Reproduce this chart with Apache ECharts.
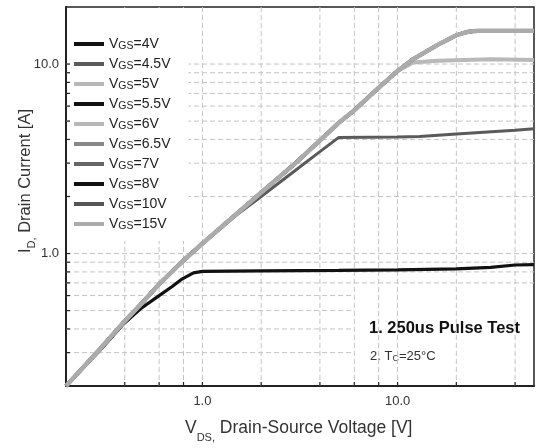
<!DOCTYPE html>
<html>
<head>
<meta charset="utf-8">
<script src="https://cdn.jsdelivr.net/npm/echarts@6/dist/echarts.min.js"></script>
<style>
html,body{margin:0;padding:0;background:#fff;}
#chart{width:537px;height:448px;}
</style>
</head>
<body>
<div id="chart"></div>
<script>
// ---- data ----
const seriesNames = ['VGS=4V','VGS=4.5V','VGS=5V','VGS=5.5V','VGS=6V','VGS=6.5V','VGS=7V','VGS=8V','VGS=10V','VGS=15V'];
const seriesColors = ['#111111','#5a5a5a','#b8b8b8','#111111','#b8b8b8','#888888','#666666','#111111','#555555','#ababab'];

const vgs4V  = [[0.2,0.2],[0.3,0.31],[0.39,0.42],[0.48,0.51],[0.6,0.6],[0.7,0.67],[0.78,0.73],[0.9,0.79],[1.0,0.805],[2,0.81],[5,0.815],[10,0.82],[20,0.83],[30,0.845],[40,0.87],[50,0.875]];
const vgs45V = [[0.2,0.2],[0.3,0.315],[0.4,0.44],[0.5,0.56],[0.6,0.69],[0.8,0.92],[1,1.13],[1.5,1.6],[2,2.0],[3,2.75],[4,3.45],[5,4.1],[10,4.12],[13,4.15],[20,4.28],[40,4.47],[50,4.55]];
const vgs5V  = [[0.2,0.2],[0.3,0.315],[0.4,0.44],[0.5,0.56],[0.6,0.69],[0.8,0.92],[1,1.13],[2,2.1],[3,3.0],[4,3.95],[5,4.9],[6,5.7],[8,7.5],[10,9.2],[12,10.2],[16,10.4],[30,10.6],[50,10.5]];
const vgs55V = [[0.2,0.2],[0.3,0.315],[0.4,0.44],[0.5,0.56],[0.6,0.69],[0.8,0.92],[1,1.13],[2,2.1],[3,3.0],[4,3.95],[5,4.9],[6,5.7],[8,7.5],[10,9.2],[12,10.6],[16,12.6],[20,14.2],[23,14.8],[26,15.0],[50,15.0]];
const vgs6V  = vgs55V;
const vgs65V = vgs55V;
const vgs7V  = vgs55V;
const vgs8V  = vgs55V;
const vgs10V = vgs55V;
const vgs15V = vgs55V;
const seriesData = [vgs4V, vgs45V, vgs5V, vgs55V, vgs6V, vgs65V, vgs7V, vgs8V, vgs10V, vgs15V];
const seriesWidths = [3.2, 3, 4, 3.5, 3.5, 3.5, 3.5, 3.5, 3.5, 4.5];

const xMin = 0.2, xMax = 50, yMin = 0.2, yMax = 20;
const xGridValues = [0.4,0.6,0.8,1,2,4,6,8,10,20,40];
const yGridValues = [0.7,0.8,0.9,1,2,3,4,5,6,7,8,9,10];
const yGridShortValues = [0.3,0.4,0.5,0.6];
const yGridShortEnd = 6;
const xTickLabels = {1:'1.0', 10:'10.0'};
const yTickLabels = {1:'1.0', 10:'10.0'};

const FONT = "'Liberation Sans', Arial, sans-serif";

function labelFor(map, v){
  for (const k in map){ if (Math.abs(v - Number(k)) < 1e-6 * Number(k)) return map[k]; }
  return '';
}

const gridStyle = {stroke:'#c4c4c4', lineWidth:1, lineDash:[5,3]};
const tickStyle = {stroke:'#222', lineWidth:1.2};

const series = seriesNames.map((n,i)=>({
  name:n, type:'line', data:seriesData[i], symbol:'none', showSymbol:false,
  color:seriesColors[i], lineStyle:{color:seriesColors[i], width:seriesWidths[i]}, z:3
}));

series.push({
  type:'custom', z:1, silent:true, clip:false,
  data: xGridValues.map(v=>[v, yMin]),
  renderItem:(params, api)=>{
    const cs = params.coordSys;
    const p = api.coord([api.value(0), yMin]);
    const b = cs.y + cs.height;
    return {type:'group', children:[
      {type:'line', shape:{x1:p[0], y1:cs.y, x2:p[0], y2:b}, style:gridStyle},
      {type:'line', shape:{x1:p[0], y1:b, x2:p[0], y2:b-4}, style:tickStyle}
    ]};
  }
});
series.push({
  type:'custom', z:1, silent:true, clip:false,
  data: yGridValues.map(v=>[xMax, v]).concat(yGridShortValues.map(v=>[yGridShortEnd, v])),
  renderItem:(params, api)=>{
    const cs = params.coordSys;
    const p = api.coord([api.value(0), api.value(1)]);
    return {type:'group', children:[
      {type:'line', shape:{x1:cs.x, y1:p[1], x2:p[0], y2:p[1]}, style:gridStyle},
      {type:'line', shape:{x1:cs.x, y1:p[1], x2:cs.x+4, y2:p[1]}, style:tickStyle}
    ]};
  }
});

const chart = echarts.init(document.getElementById('chart'), null, {renderer:'canvas'});
chart.setOption({
  animation:false,
  backgroundColor:'#fff',
  textStyle:{fontFamily:FONT},
  grid:{left:66, right:0, top:7, bottom:62, show:true, borderColor:'#222', borderWidth:1.5},
  xAxis:{
    type:'log', logBase:10, min:xMin, max:xMax,
    axisLine:{show:true, onZero:false, lineStyle:{color:'#222', width:2}},
    axisTick:{show:false}, splitLine:{show:false}, minorTick:{show:false}, minorSplitLine:{show:false},
    axisLabel:{margin:9, fontSize:13, color:'#333', fontFamily:FONT, formatter:v=>labelFor(xTickLabels, v)}
  },
  yAxis:{
    type:'log', logBase:10, min:yMin, max:yMax,
    axisLine:{show:true, onZero:false, lineStyle:{color:'#222', width:2}},
    axisTick:{show:false}, splitLine:{show:false}, minorTick:{show:false}, minorSplitLine:{show:false},
    axisLabel:{margin:7, fontSize:13, color:'#333', fontFamily:FONT, formatter:v=>labelFor(yTickLabels, v)}
  },
  legend:{
    data:seriesNames, orient:'vertical', left:70, top:8,
    padding:[29,18,9,4], itemGap:5, itemWidth:30, itemHeight:4, icon:'rect',
    backgroundColor:'#fff', selectedMode:false,
    formatter:n=>'{a|V}{b|GS}{a|'+n.slice(3)+'}',
    textStyle:{color:'#222', fontFamily:FONT, rich:{
      a:{fontSize:14, lineHeight:16, color:'#222', fontFamily:FONT},
      b:{fontSize:10.5, lineHeight:13, verticalAlign:'bottom', color:'#222', fontFamily:FONT}
    }}
  },
  graphic:[
    {type:'text', x:185, y:419, style:{
      text:'{v|V}{s|DS,}{v| Drain-Source Voltage [V]}', verticalAlign:'top', fill:'#333',
      rich:{
        v:{fontSize:17.5, lineHeight:22, verticalAlign:'top', fill:'#333', fontFamily:FONT},
        s:{fontSize:11, lineHeight:12, padding:[13,0,0,0], verticalAlign:'top', fill:'#333', fontFamily:FONT}
      }}},
    {type:'text', x:27, y:181, rotation:Math.PI/2, style:{
      text:'{v|I}{s|D,}{v| Drain Current [A]}', align:'center', verticalAlign:'middle', fill:'#333',
      rich:{
        v:{fontSize:16.5, lineHeight:21, verticalAlign:'top', fill:'#333', fontFamily:FONT},
        s:{fontSize:11, lineHeight:12, padding:[10,0,0,0], verticalAlign:'top', fill:'#333', fontFamily:FONT}
      }}},
    {type:'text', x:369, y:328, style:{
      text:'1. 250us Pulse Test', fontSize:16.5, fontWeight:'bold', fill:'#111', fontFamily:FONT, verticalAlign:'middle'}},
    {type:'text', x:370, y:355, style:{
      text:'{a|2. T}{s|C}{a|=25°C}', verticalAlign:'middle', fill:'#333',
      rich:{
        a:{fontSize:13, lineHeight:16, verticalAlign:'bottom', fill:'#333', fontFamily:FONT},
        s:{fontSize:9, lineHeight:12, verticalAlign:'bottom', fill:'#333', fontFamily:FONT}
      }}}
  ],
  series:series
});
</script>
</body>
</html>
